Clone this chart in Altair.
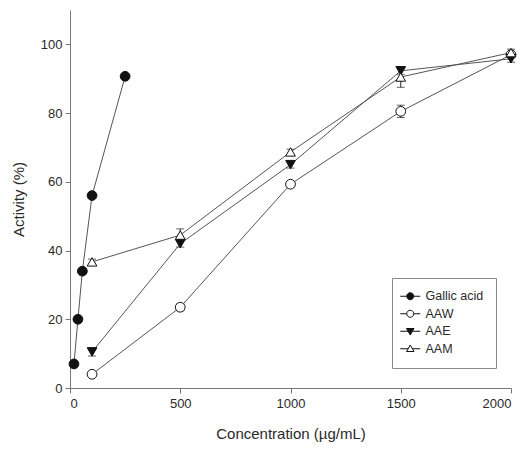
import altair as alt
import pandas as pd

series_names = ["Gallic acid", "AAW", "AAE", "AAM"]

gallic_x = [18, 36, 56, 100, 250]
gallic_y = [7.0, 20.0, 34.0, 56.0, 90.7]
gallic_err = [0.5, 0.5, 0.5, 0.5, 0.5]

extract_x = [100, 500, 1000, 1500, 2000]
aaw_y = [4.0, 23.5, 59.3, 80.5, 97.0]
aaw_err = [0.8, 1.0, 0.8, 1.8, 0.8]
aae_y = [10.5, 42.0, 65.0, 92.3, 95.8]
aae_err = [1.2, 1.0, 1.0, 1.0, 1.0]
aam_y = [36.7, 44.5, 68.7, 90.5, 97.6]
aam_err = [0.8, 1.8, 0.8, 3.0, 1.0]

x_ticks = [0, 500, 1000, 1500, 2000]
y_ticks = [0, 20, 40, 60, 80, 100]

rows = []
for name, xs, ys, es in [
    ("Gallic acid", gallic_x, gallic_y, gallic_err),
    ("AAW", extract_x, aaw_y, aaw_err),
    ("AAE", extract_x, aae_y, aae_err),
    ("AAM", extract_x, aam_y, aam_err),
]:
    for x, y, e in zip(xs, ys, es):
        rows.append({"series": name, "conc": x, "act": y, "lo": y - e, "hi": y + e})
df = pd.DataFrame(rows)

FONT = "Liberation Sans"
TXT = "#2a2a2a"

x_enc = alt.X("conc:Q", scale=alt.Scale(domain=[0, 2000], nice=False),
              axis=alt.Axis(values=x_ticks, format="d", title="Concentration (\u00b5g/mL)", grid=False,
                            labelFontSize=13, titleFontSize=15, titlePadding=16,
                            labelPadding=4, tickSize=5, titleFontWeight="normal"))
y_enc = alt.Y("act:Q", scale=alt.Scale(domain=[0, 110], nice=False),
              axis=alt.Axis(values=y_ticks, format="d", title="Activity (%)", grid=False,
                            labelFontSize=13, titleFontSize=15, titlePadding=14,
                            labelPadding=3, tickSize=5, titleFontWeight="normal"))

base = alt.Chart(df)

lines = base.mark_line(color="#555555", strokeWidth=1).encode(
    x=x_enc, y=y_enc, detail="series:N"
)

err_rules = base.mark_rule(color="#222222", strokeWidth=1).encode(
    x="conc:Q", y="lo:Q", y2="hi:Q"
)
err_top = base.mark_tick(color="#222222", size=8, thickness=1, orient="horizontal").encode(
    x="conc:Q", y="hi:Q"
)
err_bot = base.mark_tick(color="#222222", size=8, thickness=1, orient="horizontal").encode(
    x="conc:Q", y="lo:Q"
)

points = base.mark_point(stroke="#111111", strokeWidth=1, opacity=1, size=95).encode(
    x="conc:Q",
    y="act:Q",
    shape=alt.Shape("series:N",
                    scale=alt.Scale(domain=series_names,
                                    range=["circle", "circle", "triangle-down", "triangle-up"]),
                    legend=None),
    fill=alt.Fill("series:N",
                  scale=alt.Scale(domain=series_names,
                                  range=["#111111", "white", "#111111", "white"]),
                  legend=None),
)

legend_paths = [
    "M-0.7,0A0.7,0.7 0 1,0 0.7,0A0.7,0.7 0 1,0 -0.7,0Z M-2,0L-0.7,0 M0.7,0L2,0",
    "M-0.7,0A0.7,0.7 0 1,0 0.7,0A0.7,0.7 0 1,0 -0.7,0Z M-2,0L-0.7,0 M0.7,0L2,0",
    "M-0.75,-0.55L0.75,-0.55L0,0.75Z M-2,0L-0.42,0 M0.42,0L2,0",
    "M-0.75,0.55L0.75,0.55L0,-0.75Z M-2,0L-0.42,0 M0.42,0L2,0",
]

leg = alt.Legend(title=None, orient="none", legendX=322, legendY=268,
                 strokeColor="#8a8a8a", fillColor="white", padding=12,
                 symbolSize=100, symbolStrokeColor="#111111", symbolStrokeWidth=1,
                 labelFont=FONT, labelFontSize=12.5, labelColor=TXT,
                 labelOffset=9, rowPadding=4.5, symbolOpacity=1)

legend_layer = base.transform_filter("false").mark_point(
    strokeWidth=1, opacity=1, size=100
).encode(
    x="conc:Q",
    y="act:Q",
    shape=alt.Shape("series:N", scale=alt.Scale(domain=series_names, range=legend_paths),
                    legend=leg),
    fill=alt.Fill("series:N",
                  scale=alt.Scale(domain=series_names,
                                  range=["#111111", "white", "#111111", "white"]),
                  legend=leg),
    stroke=alt.Stroke("series:N",
                      scale=alt.Scale(domain=series_names,
                                      range=["#111111", "#111111", "#111111", "#111111"]),
                      legend=leg),
)

chart = alt.layer(lines, err_rules, err_top, err_bot, points, legend_layer).resolve_scale(
    shape="independent", fill="independent", stroke="independent"
).properties(
    width=441, height=378,
    autosize=alt.AutoSizeParams(type="none"),
    padding={"left": 62, "top": 2, "right": 13, "bottom": 59},
).configure_view(stroke=None).configure_axis(
    domainColor="#777777", tickColor="#777777", labelColor=TXT, titleColor=TXT,
    labelFont=FONT, titleFont=FONT
)

chart.save("out.html", embed_options={"renderer": "svg", "actions": False})
